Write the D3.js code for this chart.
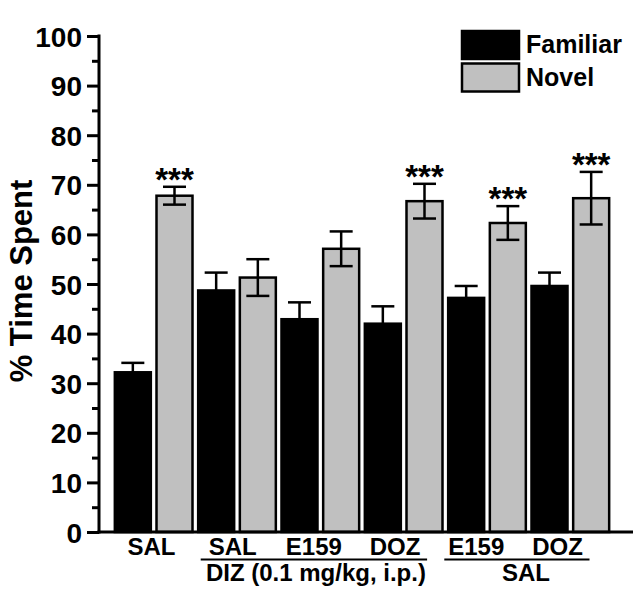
<!DOCTYPE html>
<html><head><meta charset="utf-8">
<script src="https://cdn.jsdelivr.net/npm/d3@7"></script>
<style>
body{margin:0;background:#fff}
text{font-family:"Liberation Sans",Arial,Helvetica,sans-serif;font-weight:bold;fill:#000}
</style>
</head><body>
<svg id="chart" width="633" height="590"></svg>
<script>
// ---- data ----
const groups = ["SAL", "DIZ+SAL", "DIZ+E159", "DIZ+DOZ", "SAL+E159", "SAL+DOZ"];
const groupLabels = ["SAL", "SAL", "E159", "DOZ", "E159", "DOZ"];
const series = ["Familiar", "Novel"];
const familiar = [32.2, 48.7, 42.9, 42.0, 47.2, 49.6];
const familiarErr = [1.9, 3.6, 3.4, 3.5, 2.4, 2.7];
const novel = [67.8, 51.3, 57.1, 66.7, 62.3, 67.3];
const novelErr = [1.8, 3.7, 3.5, 3.5, 3.4, 5.3];
const significance = ["***", "", "", "***", "***", "***"];
const bracketLabels = ["DIZ (0.1 mg/kg, i.p.)", "SAL"];
const bracketGroups = [[1, 3], [4, 5]];
const yMajorTicks = [0, 10, 20, 30, 40, 50, 60, 70, 80, 90, 100];
const yMinorTicks = [5, 15, 25, 35, 45, 55, 65, 75, 85, 95];
const yTitle = "% Time Spent";
const colors = {Familiar: "#000000", Novel: "#c0c0c0"};

// ---- build ----
const rows = groups.map((g, i) => ({
  group: g, i,
  bars: [
    {s: "Familiar", v: familiar[i], e: familiarErr[i]},
    {s: "Novel", v: novel[i], e: novelErr[i]}
  ]
}));

const svg = d3.select("#chart");
svg.append("rect").attr("width", 633).attr("height", 590).attr("fill", "#fff");

const y = d3.scaleLinear().domain([0, 100]).range([532, 36]);
const x0 = d3.scaleBand().domain(groups).range([112, 612]).paddingInner(0).paddingOuter(0);
const x1 = d3.scaleBand().domain(series).range([0, x0.bandwidth()]).paddingInner(0.136).paddingOuter(0.068);
const xl = d3.scalePoint().domain(groups).range([151.5, 557.5]);

// bars
const g = svg.append("g");
const grp = g.selectAll("g.grp").data(rows).join("g")
  .attr("transform", d => `translate(${x0(d.group)},0)`);

grp.selectAll("rect").data(d => d.bars).join("rect")
  .attr("x", d => x1(d.s))
  .attr("width", x1.bandwidth())
  .attr("y", d => y(d.v))
  .attr("height", d => y(0) - y(d.v))
  .attr("fill", d => colors[d.s])
  .attr("stroke", "#000")
  .attr("stroke-width", 2.5);

// error bars
const capW = 23;
const eb = grp.selectAll("g.eb").data(d => d.bars).join("g")
  .attr("stroke", "#000").attr("stroke-width", 2.5);
eb.append("line")
  .attr("x1", d => x1(d.s) + x1.bandwidth() / 2)
  .attr("x2", d => x1(d.s) + x1.bandwidth() / 2)
  .attr("y1", d => y(d.v + d.e)).attr("y2", d => y(d.v - d.e));
eb.append("line")
  .attr("x1", d => x1(d.s) + x1.bandwidth() / 2 - capW / 2)
  .attr("x2", d => x1(d.s) + x1.bandwidth() / 2 + capW / 2)
  .attr("y1", d => y(d.v + d.e)).attr("y2", d => y(d.v + d.e));
eb.append("line")
  .attr("x1", d => x1(d.s) + x1.bandwidth() / 2 - capW / 2)
  .attr("x2", d => x1(d.s) + x1.bandwidth() / 2 + capW / 2)
  .attr("y1", d => y(d.v - d.e)).attr("y2", d => y(d.v - d.e));

// significance stars
grp.append("text")
  .attr("x", x1("Novel") + x1.bandwidth() / 2)
  .attr("y", d => y(d.bars[1].v + d.bars[1].e) + 4)
  .attr("text-anchor", "middle")
  .style("font-size", "33px")
  .text(d => significance[d.i]);

// y axis
const yAxis = d3.axisLeft(y).tickValues(yMajorTicks).tickSize(12).tickPadding(5).tickFormat(d3.format("d"));
const ya = svg.append("g").attr("transform", "translate(99,0)").call(yAxis);
ya.select(".domain").remove();
ya.selectAll(".tick line").attr("stroke", "#000").attr("stroke-width", 3);
ya.selectAll(".tick text").style("font-size", "28px").attr("dy", "0.36em");
const ym = d3.axisLeft(y).tickValues(yMinorTicks).tickSize(7).tickFormat("");
const yma = svg.append("g").attr("transform", "translate(99,0)").call(ym);
yma.select(".domain").remove();
yma.selectAll(".tick line").attr("stroke", "#000").attr("stroke-width", 3);

// axis lines
svg.append("line").attr("x1", 99).attr("x2", 99).attr("y1", y(100) - 1.5).attr("y2", y(0) + 1.5)
  .attr("stroke", "#000").attr("stroke-width", 3);
svg.append("line").attr("x1", 97.5).attr("x2", 633).attr("y1", y(0)).attr("y2", y(0))
  .attr("stroke", "#000").attr("stroke-width", 3);

// y title
svg.append("text")
  .attr("transform", `translate(32,${(y(0) + y(100)) / 2 - 3}) rotate(-90)`)
  .attr("text-anchor", "middle")
  .style("font-size", "31px")
  .text(yTitle);

// x labels
svg.selectAll("text.xl").data(groups).join("text")
  .attr("class", "xl")
  .attr("x", d => xl(d))
  .attr("y", 555)
  .attr("text-anchor", "middle")
  .style("font-size", "24px")
  .text((d, i) => groupLabels[i]);

// brackets
bracketGroups.forEach((b, k) => {
  const xa = xl(groups[b[0]]) - 32, xb = xl(groups[b[1]]) + 32;
  svg.append("line").attr("x1", xa).attr("x2", xb).attr("y1", 559.5).attr("y2", 559.5)
    .attr("stroke", "#000").attr("stroke-width", 2);
  svg.append("text").attr("x", (xa + xb) / 2 + (k === 1 ? 9 : 2)).attr("y", 581)
    .attr("text-anchor", "middle").style("font-size", "24px").text(bracketLabels[k]);
});

// legend
const lg = svg.append("g").attr("transform", "translate(462,31)");
series.forEach((s, i) => {
  lg.append("rect").attr("x", 0).attr("y", i * 32.5).attr("width", 57).attr("height", 28)
    .attr("fill", colors[s]).attr("stroke", "#000").attr("stroke-width", 2.5);
  lg.append("text").attr("x", 64).attr("y", i * 32.5 + 22).style("font-size", "25px").text(s);
});
</script>
</body></html>
